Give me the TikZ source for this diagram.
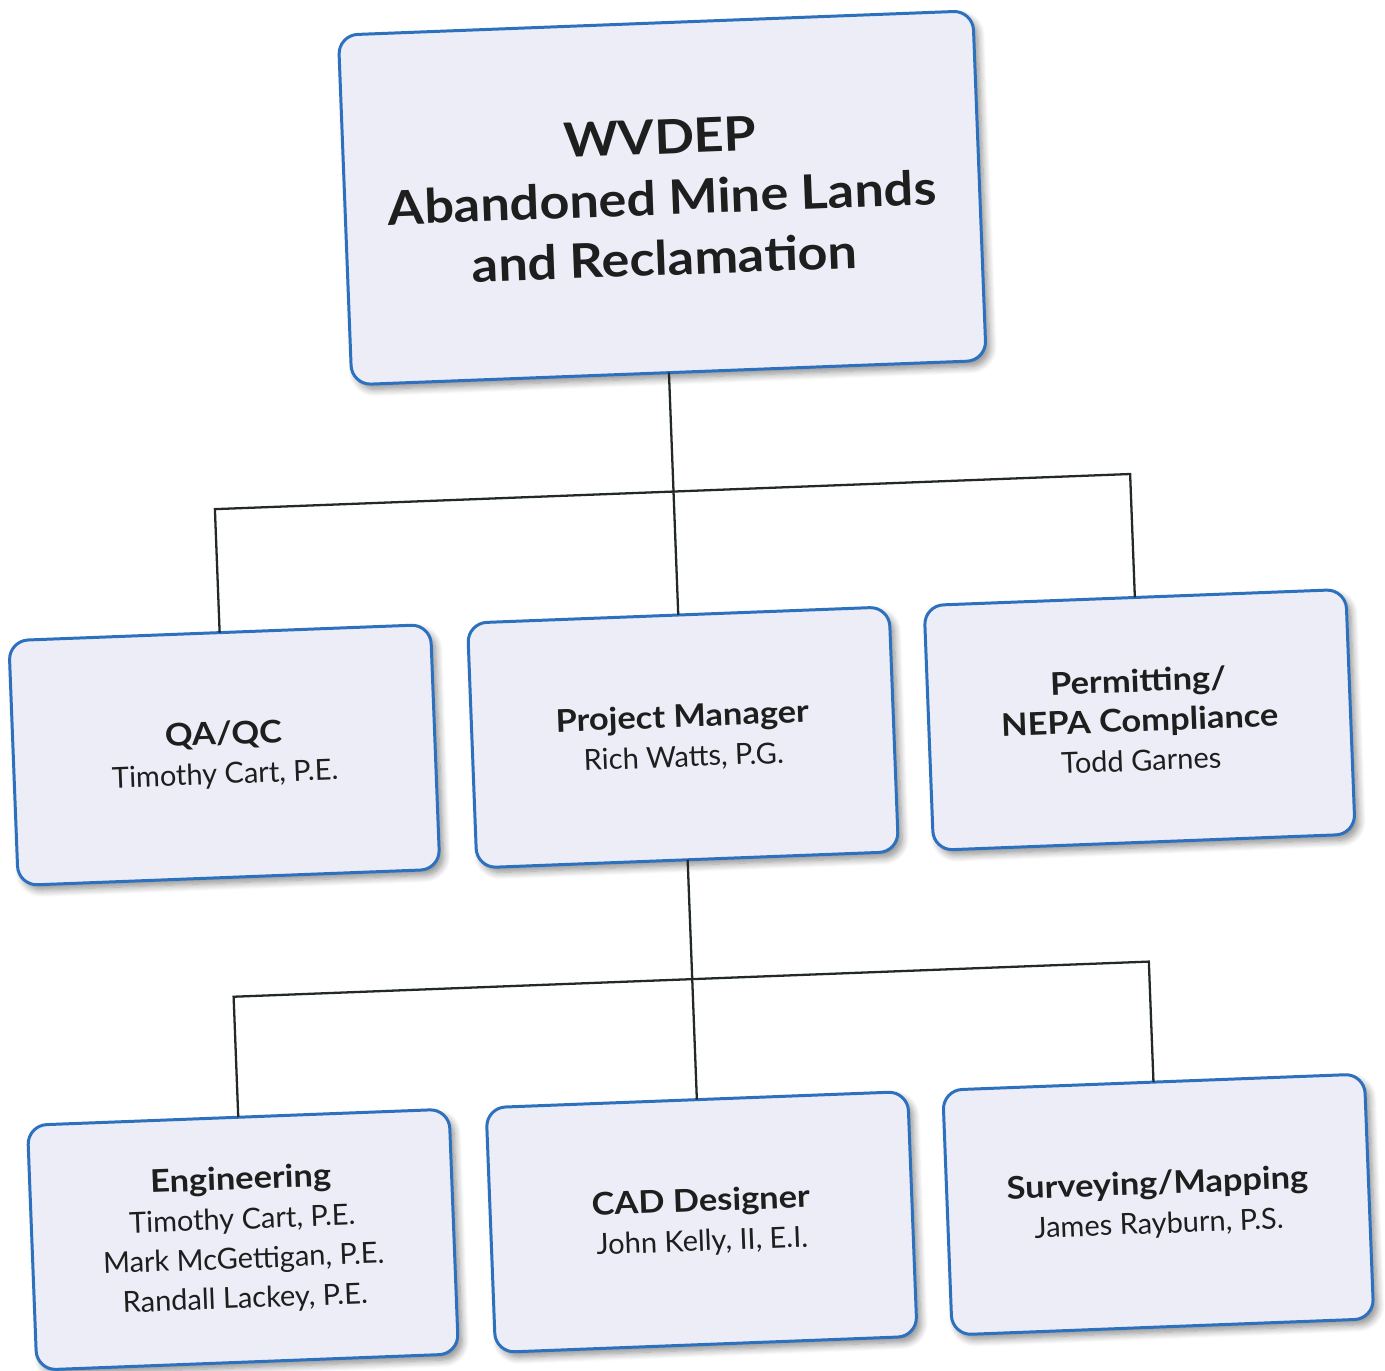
\documentclass[tikz,border=0pt]{standalone}
\usepackage{fontspec}
\setmainfont{Lato}[BoldFeatures={FakeStretch=1.1}]
\usetikzlibrary{shadows.blur}
\definecolor{boxblue}{RGB}{45,112,190}
\definecolor{boxfill}{RGB}{237,237,247}
\definecolor{ink}{RGB}{30,30,30}
\definecolor{linecol}{RGB}{35,40,40}
\newcommand{\hd}[1]{{\fontsize{17.8}{22.5}\selectfont\bfseries #1}}
\begin{document}
\begin{tikzpicture}[x=0.02cm,y=-0.02cm,
  orgbox/.style={draw=boxblue, line width=1.7pt, fill=boxfill, rounded corners=11pt,
    minimum width=8.44cm, minimum height=4.9cm, inner sep=0pt, outer sep=0pt,
    align=center, text=ink,
    blur shadow={shadow xshift=2.5pt, shadow yshift=-3pt, shadow blur steps=8, shadow blur radius=4pt, shadow opacity=45}},
  topbox/.style={orgbox, minimum width=12.7cm, minimum height=7.0cm,
    font=\fontsize{27}{34.5}\selectfont\bfseries},
  midtext/.style={font=\fontsize{16.5}{22.5}\selectfont},
  conn/.style={draw=linecol, line width=1.3pt}]
\useasboundingbox (0,0) rectangle (1385,1370);
\begin{scope}[rotate around={2.2:(692,685)}, transform shape]
  \node[topbox] (top) at (681,197) {WVDEP\\Abandoned Mine Lands\\and Reclamation};
  \node[orgbox, midtext] (qa) at (222,737) {\hd{QA/QC}\\Timothy Cart, P.E.};
  \node[orgbox, midtext] (pm) at (681,737) {\hd{Project Manager}\\Rich Watts, P.G.};
  \node[orgbox, midtext] (perm) at (1138,737) {\hd{Permitting/}\\\hd{NEPA Compliance}\\Todd Garnes};
  \node[orgbox, midtext] (eng) at (222,1222) {\hd{Engineering}\\Timothy Cart, P.E.\\Mark McGettigan, P.E.\\Randall Lackey, P.E.};
  \node[orgbox, midtext] (cad) at (681,1222) {\hd{CAD Designer}\\John Kelly, II, E.I.};
  \node[orgbox, midtext] (surv) at (1138,1222) {\hd{Surveying/Mapping}\\James Rayburn, P.S.};
  \coordinate (b1) at (681,491);
  \coordinate (b2) at (681,979);
  \draw[conn] (top.south) -- (pm.north);
  \draw[conn] (qa.north) |- (b1) -| (perm.north);
  \draw[conn] (pm.south) -- (cad.north);
  \draw[conn] (eng.north) |- (b2) -| (surv.north);
\end{scope}
\end{tikzpicture}
\end{document}
